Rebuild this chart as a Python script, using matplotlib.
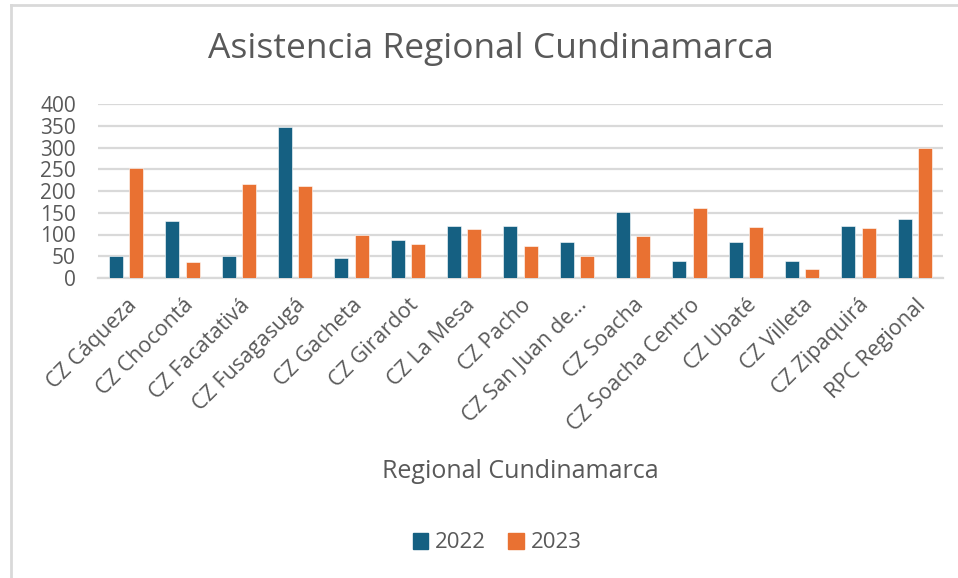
import matplotlib
matplotlib.use("Agg")
import matplotlib.pyplot as plt
from matplotlib.lines import Line2D
import numpy as np

categories = ["CZ Cáqueza", "CZ Chocontá", "CZ Facatativá", "CZ Fusagasugá", "CZ Gacheta",
              "CZ Girardot", "CZ La Mesa", "CZ Pacho", "CZ San Juan de…", "CZ Soacha",
              "CZ Soacha Centro", "CZ Ubaté", "CZ Villeta", "CZ Zipaquirá", "RPC Regional"]
values_2022 = [50, 132, 50, 346, 47, 87, 120, 120, 82, 152, 40, 82, 40, 120, 135]
values_2023 = [252, 37, 217, 211, 100, 79, 112, 73, 50, 97, 161, 117, 20, 115, 300]
series_names = ["2022", "2023"]
yticks = [0, 50, 100, 150, 200, 250, 300, 350, 400]

title = "Asistencia Regional Cundinamarca"
xlabel = "Regional Cundinamarca"

blue = "#156082"
orange = "#E97132"
text_color = "#595959"
grid_color = "#D9D9D9"

plt.rcParams['font.family'] = ['Open Sans', 'DejaVu Sans']

W, H = 958, 578
fig = plt.figure(figsize=(W / 100, H / 100), dpi=100)
ax = fig.add_axes([98 / W, 1 - 278 / H, (943 - 98) / W, (278 - 104) / H])

x = np.arange(len(categories))
bw = 0.25
off = 0.18
ax.bar(x - off, values_2022, bw, color=blue, edgecolor="white", linewidth=0.4, label=series_names[0], zorder=3)
ax.bar(x + off, values_2023, bw, color=orange, edgecolor="white", linewidth=0.4, label=series_names[1], zorder=3)

ax.set_xlim(-0.5, len(categories) - 0.5)
ax.set_ylim(0, 400)
ax.set_yticks(yticks)
ax.set_yticklabels([str(v) for v in yticks], fontsize=15, color=text_color)
ax.tick_params(axis='y', length=0, pad=16)
ax.yaxis.grid(True, color=grid_color, linewidth=1.6, zorder=0)
ax.set_axisbelow(True)
for s in ["top", "right", "left"]:
    ax.spines[s].set_visible(False)
ax.spines["bottom"].set_color(grid_color)
ax.spines["bottom"].set_linewidth(1.6)

ax.set_xticks(x)
ax.set_xticklabels(categories, rotation=45, ha="right", va="top", rotation_mode="anchor",
                   fontsize=15.5, color=text_color)
ax.tick_params(axis='x', length=0, pad=12)

fig.text(491 / W, 1 - 49 / H, title, ha="center", va="center",
         fontsize=25.5, color=text_color)
fig.text(520 / W, 1 - 472 / H, xlabel, ha="center", va="center", fontsize=18, color=text_color)

handles = [plt.Rectangle((0, 0), 1, 1, color=blue), plt.Rectangle((0, 0), 1, 1, color=orange)]
fig.legend(handles, series_names, loc="center", bbox_to_anchor=(497 / W, 1 - 543 / H), ncol=2,
           frameon=False, fontsize=16, labelcolor=text_color, handlelength=0.7, handleheight=0.7,
           handletextpad=0.3, columnspacing=1.0)

# chart frame (left and top border)
fig.add_artist(Line2D([11 / W, 11 / W], [0, 1 - 5 / H], transform=fig.transFigure, color="#D9D9D9", linewidth=2))
fig.add_artist(Line2D([11 / W, 1], [1 - 5 / H, 1 - 5 / H], transform=fig.transFigure, color="#D9D9D9", linewidth=2))

fig.savefig("out.png", dpi=100, facecolor="white")
